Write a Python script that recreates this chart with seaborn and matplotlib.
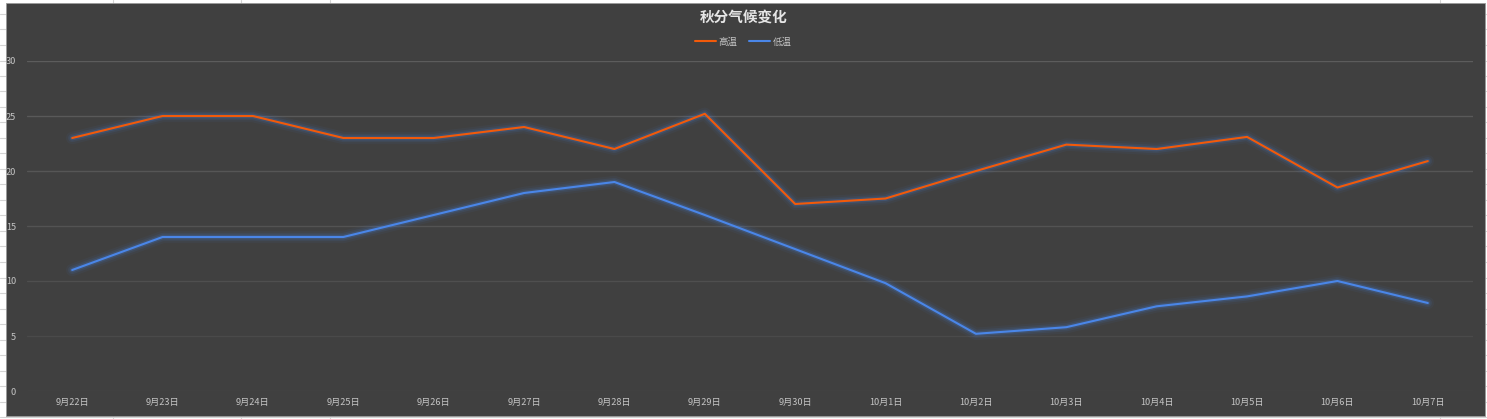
import numpy as np
import pandas as pd
import matplotlib
matplotlib.use("Agg")
import matplotlib.pyplot as plt
import matplotlib.patheffects as pe
from matplotlib.patches import Rectangle
import seaborn as sns

dates = ["9月22日", "9月23日", "9月24日", "9月25日", "9月26日", "9月27日", "9月28日", "9月29日",
         "9月30日", "10月1日", "10月2日", "10月3日", "10月4日", "10月5日", "10月6日", "10月7日"]
high = [23, 25, 25, 23, 23, 24, 22, 25.2, 17, 17.5, 20, 22.4, 22, 23.1, 18.5, 20.9]
low = [11, 14, 14, 14, 16, 18, 19, 16, 12.9, 9.8, 5.2, 5.8, 7.7, 8.6, 10, 8]
series = ["高温", "低温"]
colors = ["#f25a0a", "#4a86e8"]

df = pd.DataFrame({
    "date": dates * 2,
    "temp": high + low,
    "kind": [series[0]] * len(dates) + [series[1]] * len(dates),
})

sns.set_theme(style="dark")
plt.rcParams["font.family"] = ["Noto Sans CJK SC", "DejaVu Sans"]

W, H = 1487, 419
fig = plt.figure(figsize=(W / 100, H / 100), dpi=100, facecolor="white")
# spreadsheet-ish background and dark chart area
for xv in [113, 241, 330, 1440]:
    fig.add_artist(plt.Line2D([xv / W, xv / W], [0, 1], color="#d4d4d4", lw=0.8, zorder=-2))
for yv in np.arange(14, 419, 15.5):
    fig.add_artist(plt.Line2D([0, 1], [1 - yv / H, 1 - yv / H], color="#d4d4d4", lw=0.8, zorder=-2))
fig.patches.append(Rectangle((6 / W, 3 / H), 1479 / W, 413 / H, transform=fig.transFigure,
                             facecolor="#404040", edgecolor="#9a9a9a", lw=0.6, zorder=-1))

ax = fig.add_axes([27 / W, (H - 391) / H, (1473 - 27) / W, 330 / H])
ax.set_facecolor("none")

sns.lineplot(data=df, x="date", y="temp", hue="kind", palette=colors, ax=ax,
             linewidth=1.5, sort=False, legend=False)

glow = [pe.Stroke(linewidth=9, foreground="#4a86e8", alpha=0.05),
        pe.Stroke(linewidth=6, foreground="#4a86e8", alpha=0.09),
        pe.Stroke(linewidth=3.5, foreground="#4a86e8", alpha=0.18),
        pe.Normal()]
for line in ax.lines:
    line.set_path_effects(glow)

ax.set_xlim(-0.5, len(dates) - 0.5)
ax.set_ylim(0, 30)
ax.set_yticks(np.arange(0, 31, 5))
ax.set_xticks(range(len(dates)))
ax.set_xticklabels(dates)
ax.grid(axis="y", lw=1.0)
ax.grid(axis="x", visible=False)
# gridlines fade toward the bottom like the original
grid_cols = ["#474747", "#4a4a4a", "#4f4f4f", "#535353", "#565656", "#595959", "#5c5c5c"]
for gl, c in zip(ax.get_ygridlines(), grid_cols):
    gl.set_color(c)
ax.tick_params(axis="both", length=0, labelsize=6.6, colors="#c4c4c4")
ax.tick_params(axis="x", pad=5)
ax.tick_params(axis="y", pad=8)
for s in ax.spines.values():
    s.set_visible(False)
ax.set_xlabel("")
ax.set_ylabel("")

fig.text(0.5, 1 - 17 / H, "秋分气候变化", ha="center", va="center",
         fontsize=10.5, fontweight="bold", color="#e6e6e6")

handles = [plt.Line2D([], [], color=c, lw=1.5) for c in colors]
fig.legend(handles, series, loc="center", bbox_to_anchor=(0.5, 1 - 42 / H), ncol=2,
           frameon=False, fontsize=6.8, labelcolor="#c4c4c4", handlelength=2.2,
           handletextpad=0.3, columnspacing=1.2)

fig.savefig("out.png", dpi=100, facecolor=fig.get_facecolor())
